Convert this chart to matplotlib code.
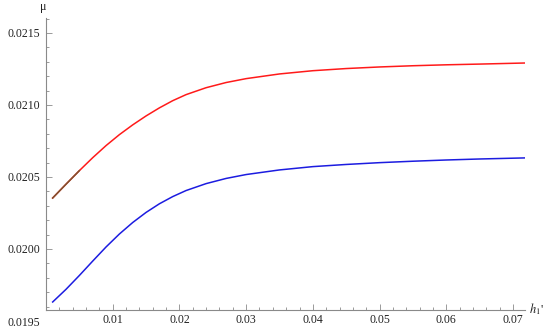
import matplotlib.pyplot as plt
from matplotlib.ticker import MultipleLocator, FixedLocator

plt.rcParams['font.family'] = ['Liberation Serif', 'DejaVu Serif']
plt.rcParams['mathtext.fontset'] = 'stix'

# values
h1 = [0.001, 0.003, 0.005, 0.007, 0.009, 0.011, 0.013, 0.015, 0.017, 0.019,
      0.021, 0.024, 0.027, 0.030, 0.035, 0.040, 0.045, 0.050, 0.055, 0.060,
      0.065, 0.0718]
mu_red = [0.020354, 0.020450, 0.020544, 0.020634, 0.020718, 0.020794, 0.020862,
          0.020924, 0.020980, 0.021030, 0.021072, 0.021120, 0.021156, 0.021183,
          0.0212155, 0.021238, 0.021253, 0.021264, 0.0212725, 0.021279,
          0.021284, 0.0212915]
mu_blue = [0.019632, 0.019720, 0.019816, 0.019916, 0.020014, 0.020104, 0.020184,
           0.020254, 0.020314, 0.020364, 0.020406, 0.020454, 0.020490, 0.020517,
           0.020549, 0.020572, 0.020587, 0.0205995, 0.0206095, 0.020618,
           0.020625, 0.0206325]

n_brown = 3  # first points of the red curve drawn brown (overlap artefact)

xticks = [0.01, 0.02, 0.03, 0.04, 0.05, 0.06, 0.07]
yticks = [0.0195, 0.0200, 0.0205, 0.0210, 0.0215]
y_origin = 0.019576
x_max = 0.0718
y_max = 0.021604

axis_col = '#8a8a8a'

fig = plt.figure(figsize=(5.5, 3.33), dpi=100)
ax = fig.add_axes([46 / 550, 1 - 321 / 333, 479 / 550, 303 / 333])

ax.plot(h1, mu_red, color='#ff1a1a', lw=1.1)
ax.plot(h1[:n_brown], mu_red[:n_brown], color='#7d5530', lw=1.1)
ax.plot(h1, mu_blue, color='#1c1ce0', lw=1.1)

ax.set_xlim(0, x_max)
ax.set_ylim(0.0195, y_max)

for s in ['top', 'right']:
    ax.spines[s].set_visible(False)
ax.spines['bottom'].set_position(('data', y_origin))
ax.spines['left'].set_bounds(y_origin, y_max)
for s in ['bottom', 'left']:
    ax.spines[s].set_color(axis_col)
    ax.spines[s].set_linewidth(0.8)

ax.xaxis.set_major_locator(FixedLocator(xticks))
ax.set_xticklabels(['%.2f' % t for t in xticks])
ax.xaxis.set_minor_locator(MultipleLocator(0.002))
ax.yaxis.set_major_locator(FixedLocator(yticks))
ax.set_yticklabels(['%.4f' % t for t in yticks])
ax.yaxis.set_minor_locator(MultipleLocator(0.0001))

ax.tick_params(which='both', direction='in', color=axis_col, width=0.6,
               labelsize=8.5, labelcolor='#222222')
ax.tick_params(which='major', length=4)
ax.tick_params(which='minor', length=2.5)
ax.tick_params(axis='x', pad=3)
ax.tick_params(axis='y', pad=4)
ax.yaxis.get_major_ticks()[0].tick1line.set_visible(False)

ax.annotate(r"$h_1$'", xy=(1, y_origin), xycoords=('axes fraction', 'data'),
            xytext=(3, 1), textcoords='offset points', ha='left', va='center',
            fontsize=9, color='#222222')
ax.annotate('μ', xy=(0, 1), xycoords=('data', 'axes fraction'),
            xytext=(-2, 8), textcoords='offset points', ha='center', va='center',
            fontsize=8.5, color='#222222')

fig.savefig('out.png', dpi=100)
